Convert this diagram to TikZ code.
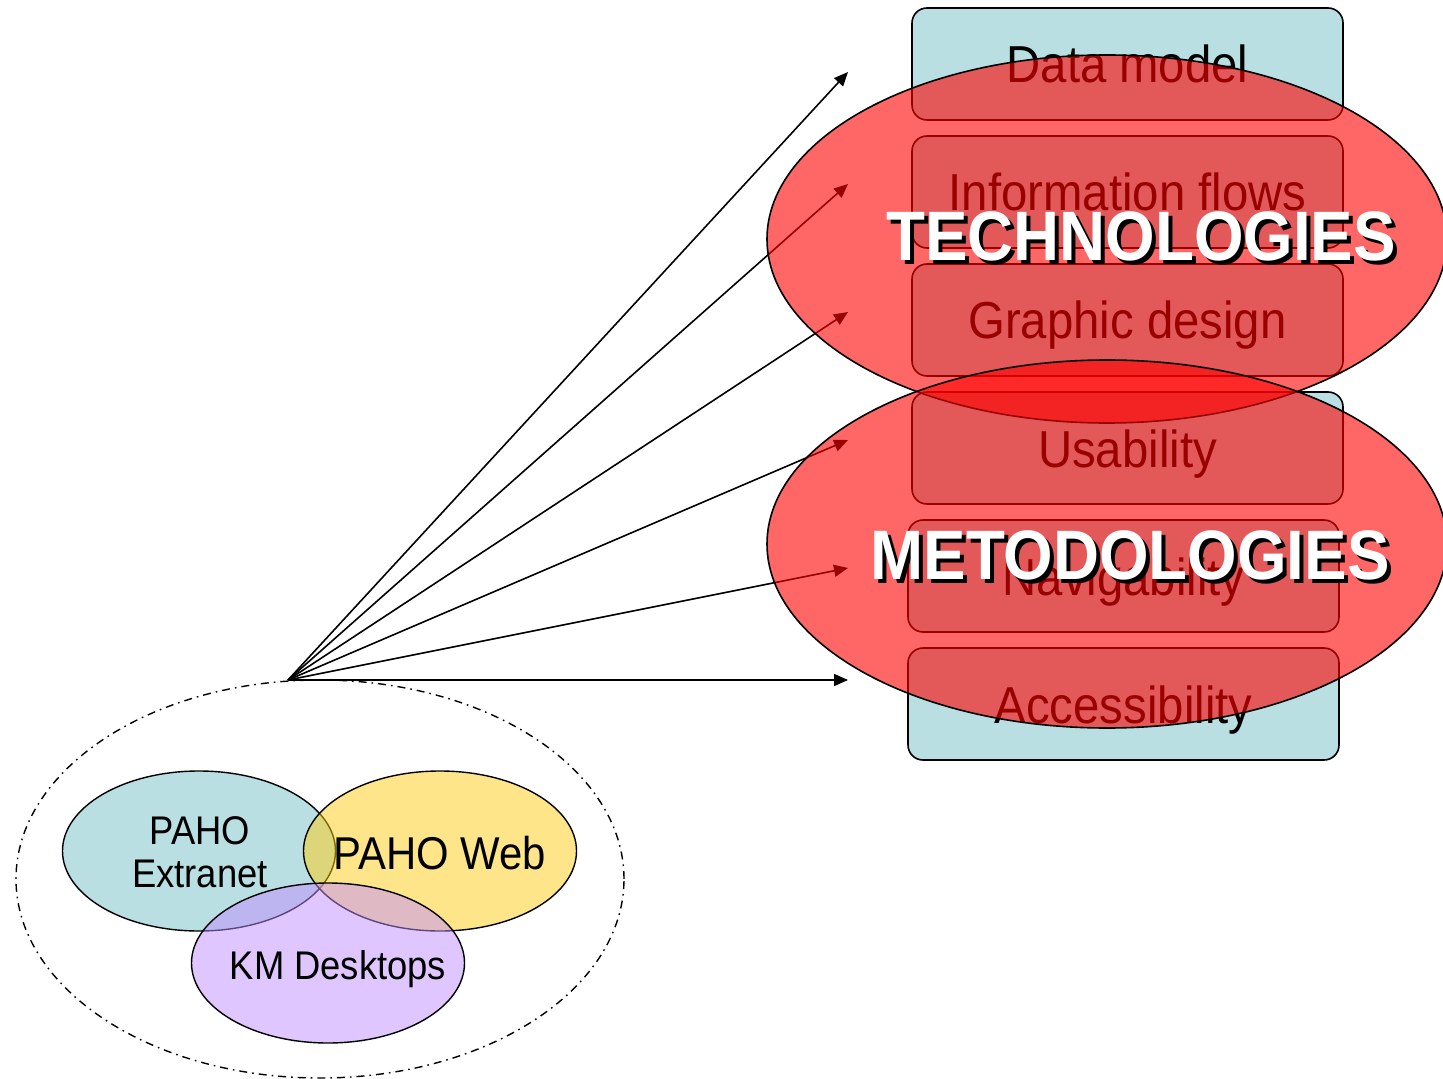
\documentclass[tikz,border=0pt]{standalone}
\usepackage{fontspec}
\setmainfont[FakeStretch=0.91]{Liberation Sans}
\usetikzlibrary{shapes.geometric,arrows.meta}
\definecolor{boxteal}{HTML}{B9DFE2}
\definecolor{vennyellow}{HTML}{FFCC14}
\definecolor{vennpurple}{HTML}{BF8DFF}
\begin{document}
\begin{tikzpicture}[x=0.5pt,y=-0.5pt,
  layerbox/.style={draw=black, line width=0.8pt, fill=boxteal, rounded corners=7.5pt,
    minimum width=215.5pt, minimum height=56pt, inner sep=0pt,
    text height=22pt, text depth=3pt,
    font=\fontsize{26}{28}\selectfont},
  bigoval/.style={ellipse, draw=black, line width=0.8pt, fill=red, fill opacity=0.6,
    draw opacity=1, minimum width=340pt, minimum height=184pt, inner sep=0pt},
  bigword/.style={font=\fontsize{35}{38}\selectfont\bfseries, inner sep=0pt},
  venn/.style={ellipse, draw=black, line width=0.7pt, minimum width=136.5pt,
    minimum height=80pt, inner sep=0pt},
  vennlabel/.style={align=center, inner sep=0pt, font=\fontsize{20}{21.5}\selectfont},
  link/.style={draw=black, line width=0.8pt, -{Triangle[length=7pt,width=6pt]}}
]
\useasboundingbox (0,0) rectangle (1443,1079);

% stacked layer boxes
\node[layerbox] (data) at (1127.5,64) {Data model};
\node[layerbox] (info) at (1127.5,192) {Information flows};
\node[layerbox] (graph) at (1127.5,320) {Graphic design};
\node[layerbox] (usab) at (1127.5,448) {Usability};
\node[layerbox] (navig) at (1123.5,576) {Navigability};
\node[layerbox] (access) at (1123.5,704) {Accessibility};

% outer dash-dot ellipse
\node[ellipse, draw=black, line width=0.7pt,
  dash pattern=on 4pt off 2.5pt on 0.8pt off 2.5pt,
  minimum width=304pt, minimum height=199pt, inner sep=0pt] (outer) at (320,879) {};

% venn ellipses
\node[venn, fill=boxteal] (extra) at (199,851) {};
\node[venn, fill=vennyellow, fill opacity=0.5, draw opacity=1] (web) at (440,851) {};
\node[venn, fill=vennpurple, fill opacity=0.5, draw opacity=1] (km) at (328,963) {};
\node[vennlabel] (extral) at (200,852) {PAHO\\Extranet};
\node[vennlabel, font=\fontsize{23}{25}\selectfont] (webl) at (440,853) {PAHO Web};
\node[vennlabel] (kml) at (338,969) {KM Desktops};

% arrows
\coordinate (o) at (288,680);
\coordinate (t1) at (848,72);
\coordinate (t2) at (848,184);
\coordinate (t3) at (848,312);
\coordinate (t4) at (848,440);
\coordinate (t5) at (848,568);
\coordinate (t6) at (848,680);
\foreach \t in {t1,t2,t3,t4,t5,t6} { \draw[link] (o) -- (\t); }

% overlay ellipses
\node[bigoval] (tech) at (1107,239) {};
\node[bigoval] (meto) at (1107,544) {};

% titles with shadow
\node[bigword, text=black] (techs) at (1145,240) {TECHNOLOGIES};
\node[bigword, text=white] (techw) at (1141,236) {TECHNOLOGIES};
\node[bigword, text=black] (metos) at (1134,559) {METODOLOGIES};
\node[bigword, text=white] (metow) at (1130,555) {METODOLOGIES};
\end{tikzpicture}
\end{document}
